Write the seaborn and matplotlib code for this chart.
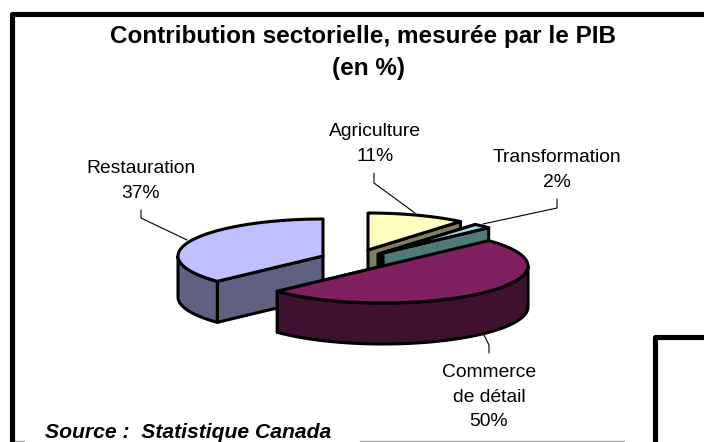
import numpy as np
import matplotlib
matplotlib.use('Agg')
import matplotlib.pyplot as plt
import seaborn as sns

# data
sectors = ['Agriculture', 'Transformation', 'Commerce\nde détail', 'Restauration']
shares = [11, 2, 50, 37]
top_colors = ['#FFFFC0', '#A0E0E0', '#802060', '#C0C0FF']
side_colors = ['#808060', '#507A78', '#401030', '#606080']

# where each slice apex sits once exploded (pixels)
apex = [(368, 250), (383, 253), (383, 266), (323, 256)]
rx, ry, depth = 145, 37, 41
line = 2.2

sns.set_theme(style='white')
plt.rcParams['font.family'] = ['Liberation Sans', 'DejaVu Sans']

fig = plt.figure(figsize=(7.04, 4.42), dpi=100)
ax = fig.add_axes([0, 0, 1, 1])
ax.set_xlim(0, 704)
ax.set_ylim(442, 0)
ax.axis('off')


def rim(cx, cy, a, b):
    # points on the ellipse, angle clockwise from 12 o'clock
    t = np.radians(np.linspace(a, b, 80))
    return cx + rx * np.sin(t), cy - ry * np.cos(t)


def poly(xs, ys, col, z):
    ax.fill(xs, ys, facecolor=col, edgecolor='black', linewidth=line, joinstyle='round', zorder=z)


edges = np.cumsum([0] + shares) * 3.6

# back to front: restauration, agriculture, transformation, commerce
for i, z in [(3, 2), (0, 3), (1, 5), (2, 7)]:
    cx, cy = apex[i]
    a, b = edges[i], edges[i + 1]
    xs, ys = rim(cx, cy, a, b)

    # flat cut facing the viewer
    if i == 3:
        poly([cx, xs[0], xs[0], cx], [cy, ys[0], ys[0] + depth, cy + depth], side_colors[i], z)
    else:
        if i == 1:
            # the dark inner wall next to the agriculture slice
            poly([cx - 5, xs[0], xs[0], cx - 5], [cy + 1, ys[0], ys[0] + depth, cy + depth], 'black', z - 1)
        poly([cx, xs[-1], xs[-1], cx], [cy, ys[-1], ys[-1] + depth, cy + depth], side_colors[i], z)

    # curved outer wall
    lo, hi = max(a, 90), min(b, 270)
    if lo < hi:
        wx, wy = rim(cx, cy, lo, hi)
        poly(np.r_[wx, wx[::-1]], np.r_[wy, wy[::-1] + depth], side_colors[i], z)

    poly(np.r_[cx, xs], np.r_[cy, ys], top_colors[i], z + 0.5)

# leader lines
leaders = [
    ([374, 374, 415], [173, 183, 213]),
    ([557, 557, 483], [199, 208, 224]),
    ([483, 489, 489], [333, 345, 353]),
    ([141, 141, 187], [210, 218, 240]),
]
for lx, ly in leaders:
    ax.plot(lx, ly, color='black', lw=0.8, zorder=1)

# labels
labels = [f'{s}\n{v}%' for s, v in zip(sectors, shares)]
label_pos = [(375, 144), (557, 170), (489, 397), (141, 181)]
for txt, (lx, ly) in zip(labels, label_pos):
    ax.text(lx, ly, txt, ha='center', va='center', fontsize=13.9, linespacing=1.56, color='black')

ax.text(363, 36, 'Contribution sectorielle, mesurée par le PIB', ha='center', va='center',
        fontsize=17.5, fontweight='bold', color='black')
ax.text(368, 68, '(en %)', ha='center', va='center', fontsize=17.5, fontweight='bold', color='black')
ax.text(45, 432, 'Source :  Statistique Canada', ha='left', va='center', fontsize=15.2,
        fontweight='bold', fontstyle='italic', color='black')

# frames
ax.plot([11.5, 11.5, 704], [442, 13.5, 13.5], color='black', lw=3.7, solid_joinstyle='round', zorder=9)
ax.plot([654.5, 654.5, 704], [442, 336.5, 336.5], color='black', lw=3.7, solid_joinstyle='round', zorder=9)
ax.plot([14, 24], [441, 441], color='#AAAAAA', lw=1, zorder=1)
ax.plot([360, 624], [441, 441], color='#AAAAAA', lw=1, zorder=1)

fig.savefig('out.png', dpi=100)
